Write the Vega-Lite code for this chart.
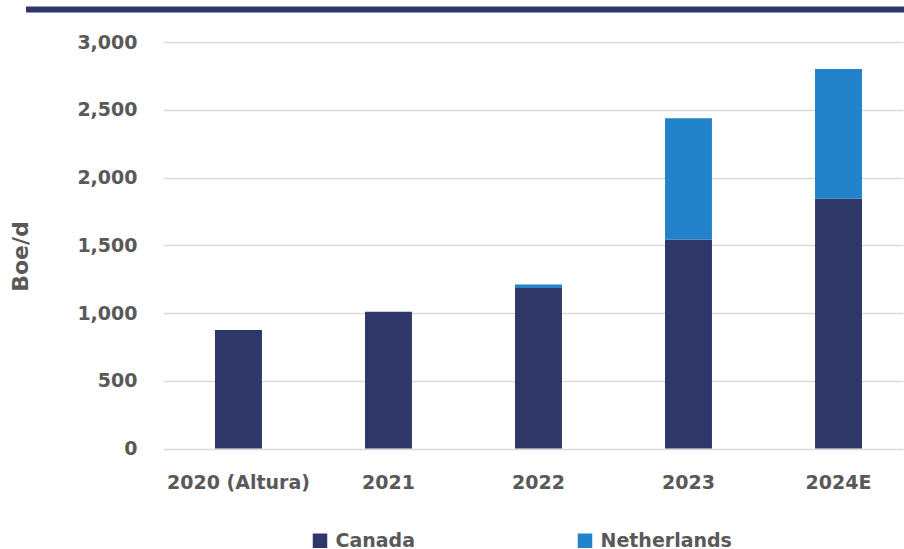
{
  "$schema": "https://vega.github.io/schema/vega-lite/v6.json",
  "width": 740,
  "height": 406.5,
  "padding": {"left": 9, "top": 6, "right": 0, "bottom": 0},
  "autosize": {"type": "pad"},
  "background": "white",
  "config": {"view": {"stroke": null}, "font": "DejaVu Sans"},
  "data": {
    "values": [
      {"year": "2020 (Altura)", "region": "Canada", "boed": 875},
      {"year": "2021", "region": "Canada", "boed": 1010},
      {"year": "2022", "region": "Canada", "boed": 1185},
      {"year": "2022", "region": "Netherlands", "boed": 25},
      {"year": "2023", "region": "Canada", "boed": 1542},
      {"year": "2023", "region": "Netherlands", "boed": 895},
      {"year": "2024E", "region": "Canada", "boed": 1843},
      {"year": "2024E", "region": "Netherlands", "boed": 957}
    ]
  },
  "layer": [
    {
      "data": {"values": [{"line": "top"}]},
      "mark": {"type": "rule", "color": "#2E3767", "strokeWidth": 6, "clip": false},
      "encoding": {
        "y": {"datum": 3239, "type": "quantitative", "scale": {"domain": [0, 3000], "nice": false}},
        "x": {"value": -137},
        "x2": {"value": 741}
      }
    },
    {
      "mark": {"type": "bar"},
      "encoding": {
        "x": {
          "field": "year",
          "type": "nominal",
          "sort": ["2020 (Altura)", "2021", "2022", "2023", "2024E"],
          "scale": {"paddingInner": 0.687, "paddingOuter": 0.31, "align": 0.559},
          "axis": {
            "title": null,
            "labelAngle": 0,
            "labelFont": "DejaVu Sans",
            "labelFontWeight": "bold",
            "labelFontSize": 19,
            "labelColor": "#595959",
            "labelPadding": 25,
            "ticks": false,
            "domain": false
          }
        },
        "y": {
          "field": "boed",
          "type": "quantitative",
          "stack": "zero",
          "scale": {"domain": [0, 3000], "nice": false},
          "axis": {
            "values": [0, 500, 1000, 1500, 2000, 2500, 3000],
            "format": ",d",
            "title": "Boe/d",
            "titleFont": "DejaVu Sans",
            "titleFontSize": 22,
            "titleFontWeight": "bold",
            "titleColor": "#595959",
            "titlePadding": 44,
            "titleY": 214,
            "labelFont": "DejaVu Sans",
            "labelFontSize": 19,
            "labelFontWeight": "bold",
            "labelColor": "#595959",
            "labelPadding": 26,
            "ticks": false,
            "domain": false,
            "grid": true,
            "gridColor": "#D9D9D9",
            "gridWidth": 1.5
          }
        },
        "order": {"field": "region", "sort": "ascending"},
        "color": {
          "field": "region",
          "type": "nominal",
          "scale": {"domain": ["Canada", "Netherlands"], "range": ["#2E3767", "#2383CA"]},
          "legend": {
            "title": null,
            "orient": "none",
            "legendX": 147.5,
            "legendY": 489,
            "direction": "horizontal",
            "columns": 2,
            "columnPadding": 160,
            "symbolType": "square",
            "symbolSize": 210,
            "symbolStrokeWidth": 0,
            "labelFont": "DejaVu Sans",
            "labelFontSize": 19,
            "labelFontWeight": "bold",
            "labelColor": "#595959",
            "labelOffset": 6,
            "padding": 0
          }
        }
      }
    }
  ]
}
